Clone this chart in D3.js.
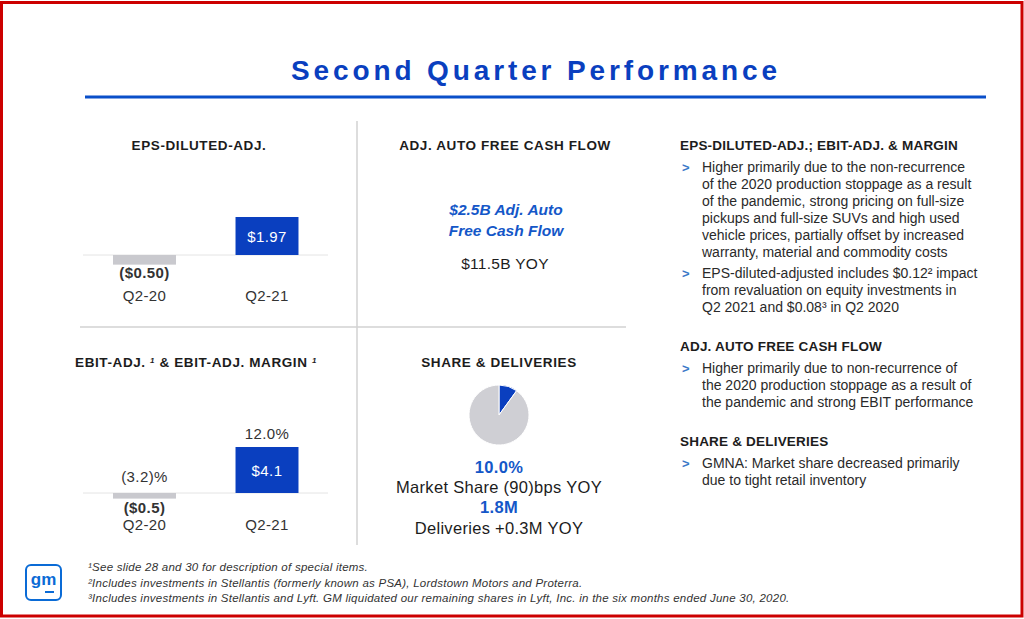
<!DOCTYPE html>
<html><head><meta charset="utf-8">
<script src="https://cdn.jsdelivr.net/npm/d3@7"></script>
<style>
html,body{margin:0;padding:0;background:#fff;}
svg{display:block;font-family:"Liberation Sans",Arial,sans-serif;}
</style></head>
<body>
<script>
// ---- data ----
const periods = ["Q2-20", "Q2-21"];
const epsValues = [-0.50, 1.97];
const epsLabels = ["($0.50)", "$1.97"];
const ebitValues = [-0.5, 4.1];
const ebitLabels = ["($0.5)", "$4.1"];
const ebitMarginLabels = ["(3.2)%", "12.0%"];
const marketShare = [10.0, 90.0]; // GM share vs rest
const cashFlowLines = ["$2.5B Adj. Auto", "Free Cash Flow"];
const cashFlowYoY = "$11.5B YOY";
const shareLines = ["10.0%", "Market Share (90)bps YOY", "1.8M", "Deliveries +0.3M YOY"];
const commentary = [
  {head: "EPS-DILUTED-ADJ.; EBIT-ADJ. & MARGIN", bullets: [
    ["Higher primarily due to the non-recurrence", "of the 2020 production stoppage as a result", "of the pandemic, strong pricing on full-size", "pickups and full-size SUVs and high used", "vehicle prices, partially offset by increased", "warranty, material and commodity costs"],
    ["EPS-diluted-adjusted includes $0.12\u00B2 impact", "from revaluation on equity investments in", "Q2 2021 and $0.08\u00B3 in Q2 2020"]]},
  {head: "ADJ. AUTO FREE CASH FLOW", bullets: [
    ["Higher primarily due to non-recurrence of", "the 2020 production stoppage as a result of", "the pandemic and strong EBIT performance"]]},
  {head: "SHARE & DELIVERIES", bullets: [
    ["GMNA: Market share decreased primarily", "due to tight retail inventory"]]}
];
const footnotes = [
  "\u00B9See slide 28 and 30 for description of special items.",
  "\u00B2Includes investments in Stellantis (formerly known as PSA), Lordstown Motors and Proterra.",
  "\u00B3Includes investments in Stellantis and Lyft. GM liquidated our remaining shares in Lyft, Inc. in the six months ended June 30, 2020."
];

const W = 1024, H = 619;
const BLUE = "#0a3fbf", TEXT = "#1c1c1c", GRAY = "#c9c9ce", LINK = "#1457c8";
const svg = d3.select("body").append("svg").attr("width", W).attr("height", H);

// frame
svg.append("rect").attr("x", 1.5).attr("y", 2.5).attr("width", W - 3.5).attr("height", H - 5.5)
  .attr("fill", "none").attr("stroke", "#cc0000").attr("stroke-width", 3);

// title
svg.append("text").attr("x", 534).attr("y", 80).attr("text-anchor", "middle")
  .attr("font-size", 28).attr("font-weight", "bold").attr("fill", BLUE)
  .attr("textLength", 486).attr("lengthAdjust", "spacing").text("Second Quarter Performance");
svg.append("line").attr("x1", 85).attr("x2", 986).attr("y1", 97).attr("y2", 97)
  .attr("stroke", "#0a4fc9").attr("stroke-width", 3);

// dividers
svg.append("line").attr("x1", 357).attr("x2", 357).attr("y1", 121).attr("y2", 545)
  .attr("stroke", "#d2d2d2").attr("stroke-width", 1.5);
svg.append("line").attr("x1", 80).attr("x2", 626).attr("y1", 327).attr("y2", 327)
  .attr("stroke", "#d2d2d2").attr("stroke-width", 1.5);

function heading(x, y, t, anchor, ls) {
  return svg.append("text").attr("x", x).attr("y", y).attr("text-anchor", anchor || "middle")
    .attr("font-size", 13.5).attr("font-weight", "bold").attr("fill", TEXT)
    .attr("letter-spacing", ls == null ? 0.6 : ls).text(t);
}

// ---- bar panels ----
const x = d3.scaleBand().domain(periods).range([83, 328.5]).paddingInner(0.486).paddingOuter(0.245);
const cx = p => x(p) + x.bandwidth() / 2;

function barPanel(values, y0, top) {
  const y = d3.scaleLinear().domain([0, d3.max(values)]).range([y0, top]);
  const g = svg.append("g");
  g.append("line").attr("x1", 83).attr("x2", 328).attr("y1", y0).attr("y2", y0)
    .attr("stroke", "#e4e4e4").attr("stroke-width", 1);
  g.selectAll("rect.bar").data(values).join("rect").attr("class", "bar")
    .attr("x", (d, i) => x(periods[i])).attr("width", x.bandwidth())
    .attr("y", d => y(Math.max(0, d))).attr("height", d => Math.abs(y(d) - y(0)))
    .attr("fill", d => d < 0 ? GRAY : BLUE);
  return y;
}
function label(xx, yy, t, opts) {
  opts = opts || {};
  return svg.append("text").attr("x", xx).attr("y", yy).attr("text-anchor", "middle")
    .attr("font-size", opts.size || 15).attr("font-weight", opts.bold ? "bold" : "normal")
    .attr("letter-spacing", opts.ls == null ? 0.4 : opts.ls)
    .attr("fill", opts.fill || "#333").text(t);
}

// EPS
heading(199, 150, "EPS-DILUTED-ADJ.");
const yE = barPanel(epsValues, 255, 217);
label(cx(periods[1]), (yE(epsValues[1]) + yE(0)) / 2 + 5.5, epsLabels[1], {fill: "#fff", size: 15});
label(cx(periods[0]), 278, epsLabels[0], {bold: true, size: 15});
periods.forEach(p => label(cx(p), 301, p));

// EBIT
const eh = svg.append("text").attr("x", 196).attr("y", 367).attr("text-anchor", "middle")
  .attr("font-size", 13.5).attr("font-weight", "bold").attr("fill", TEXT).attr("letter-spacing", 0.6);
eh.append("tspan").text("EBIT-ADJ. ");
eh.append("tspan").attr("font-size", 8).attr("font-style", "italic").attr("dy", -4).text("1");
eh.append("tspan").attr("dy", 4).text(" & EBIT-ADJ. MARGIN ");
eh.append("tspan").attr("font-size", 8).attr("font-style", "italic").attr("dy", -4).text("1");
const yB = barPanel(ebitValues, 493, 447);
label(cx(periods[1]), (yB(ebitValues[1]) + yB(0)) / 2 + 5.5, ebitLabels[1], {fill: "#fff"});
label(cx(periods[1]), yB(ebitValues[1]) - 8, ebitMarginLabels[1]);
label(cx(periods[0]), 482, ebitMarginLabels[0]);
label(cx(periods[0]), 513, ebitLabels[0], {bold: true});
periods.forEach(p => label(cx(p), 530, p));

// Cash flow
heading(505, 150, "ADJ. AUTO FREE CASH FLOW");
cashFlowLines.forEach((t, i) => {
  svg.append("text").attr("x", 506).attr("y", 215 + i * 21).attr("text-anchor", "middle")
    .attr("font-size", 15.5).attr("font-weight", "bold").attr("font-style", "italic").attr("fill", LINK).text(t);
});
label(505, 269, cashFlowYoY, {fill: TEXT, size: 15.5, ls: 0.3});

// Share & deliveries
heading(499, 367, "SHARE & DELIVERIES");
const pie = d3.pie().sort(null)(marketShare);
const arc = d3.arc().innerRadius(0).outerRadius(30);
svg.append("g").attr("transform", "translate(499,415)").selectAll("path").data(pie).join("path")
  .attr("d", arc).attr("fill", (d, i) => i === 0 ? BLUE : "#cfcfd4").attr("stroke", "#fff").attr("stroke-width", 1);
shareLines.forEach((t, i) => {
  label(499, 473 + i * 20.2, t, {size: 16.5, bold: i % 2 === 0, fill: i % 2 === 0 ? LINK : TEXT, ls: 0.3});
});

// commentary
const secY = [150, 351, 446];
commentary.forEach((sec, si) => {
  heading(680, secY[si], sec.head, "start", 0.2);
  let yy = secY[si] + 22;
  sec.bullets.forEach(b => {
    svg.append("text").attr("x", 682).attr("y", yy).attr("font-size", 13).attr("font-weight", "bold")
      .attr("fill", "#3a78c8").text(">");
    b.forEach(line => {
      svg.append("text").attr("x", 702).attr("y", yy).attr("font-size", 14)
        .attr("letter-spacing", 0.0).attr("fill", "#2a2a2a").text(line);
      yy += 17;
    });
    yy += 4;
  });
});

// footnotes
svg.selectAll("text.fn").data(footnotes).join("text").attr("class", "fn")
  .attr("x", 88).attr("y", (d, i) => 571 + i * 15.5).attr("font-size", 11.5).attr("font-style", "italic")
  .attr("letter-spacing", 0.25).attr("fill", "#333").text(d => d);

// GM logo
const logo = svg.append("g").attr("transform", "translate(25,564)");
logo.append("rect").attr("x", 1).attr("y", 1).attr("width", 35).attr("height", 35).attr("rx", 5)
  .attr("fill", "none").attr("stroke", "#0a6bd6").attr("stroke-width", 2);
logo.append("text").attr("x", 18.5).attr("y", 21).attr("text-anchor", "middle").attr("font-size", 17)
  .attr("font-weight", "bold").attr("fill", "#0a6bd6").text("gm");
logo.append("line").attr("x1", 20).attr("x2", 29).attr("y1", 28).attr("y2", 28).attr("stroke", "#0a6bd6").attr("stroke-width", 2);
</script>
</body></html>
